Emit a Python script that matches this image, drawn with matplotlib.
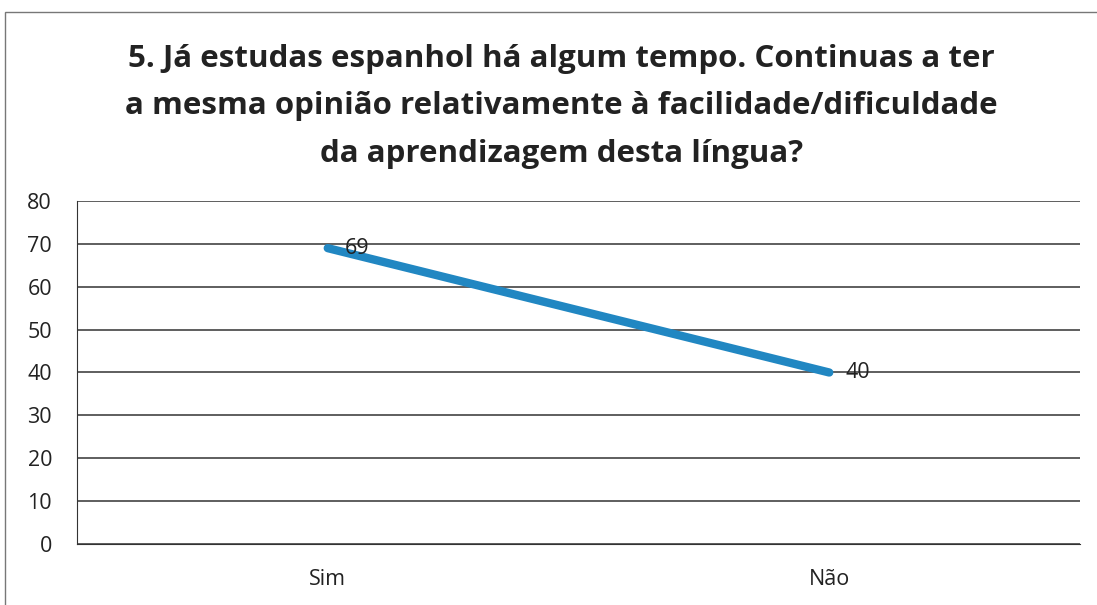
import matplotlib
matplotlib.use("Agg")
from matplotlib import pyplot as plt
from matplotlib.patches import Rectangle

# data
categories = ["Sim", "Não"]
values = [69, 40]
y_ticks = [0, 10, 20, 30, 40, 50, 60, 70, 80]
title = ("5. Já estudas espanhol há algum tempo. Continuas a ter\n"
         "a mesma opinião relativamente à facilidade/dificuldade\n"
         "da aprendizagem desta língua?")

plt.rcParams['font.family'] = ['Open Sans', 'DejaVu Sans']

fig = plt.figure(figsize=(10.97, 6.05), dpi=100)
ax = fig.add_axes([0.0702, 0.1008, 0.9143, 0.567])

x = list(range(len(categories)))
ax.plot(x, values, color='#2187c2', linewidth=6, solid_capstyle='round', zorder=3)
for xi, v in zip(x, values):
    ax.annotate(str(v), (xi, v), xytext=(12, 0), textcoords='offset points',
                ha='left', va='center', fontsize=15.5, color='#222222', zorder=4)

ax.set_xlim(-0.5, 1.5)
ax.set_ylim(0, 80)
ax.set_xticks(x)
ax.set_xticklabels(categories)
ax.set_yticks(y_ticks)
ax.tick_params(axis='both', length=0, labelsize=15.5, colors='#222222')
ax.tick_params(axis='y', pad=18)
ax.tick_params(axis='x', pad=18)
ax.grid(axis='y', color='#333333', linewidth=1.1)
ax.set_axisbelow(True)
for side in ['top', 'right']:
    ax.spines[side].set_visible(False)
ax.spines['left'].set_color('#333333')
ax.spines['bottom'].set_color('#333333')

fig.text(0.512, 0.824, title, ha='center', va='center', fontsize=22.5,
         fontweight='bold', color='#222222', linespacing=1.75)

# outer chart border
fig.add_artist(Rectangle((0.0046, -0.05), 1.2, 1.03, transform=fig.transFigure,
                         fill=False, edgecolor='#777777', linewidth=1))

fig.savefig('out.png', dpi=100)
